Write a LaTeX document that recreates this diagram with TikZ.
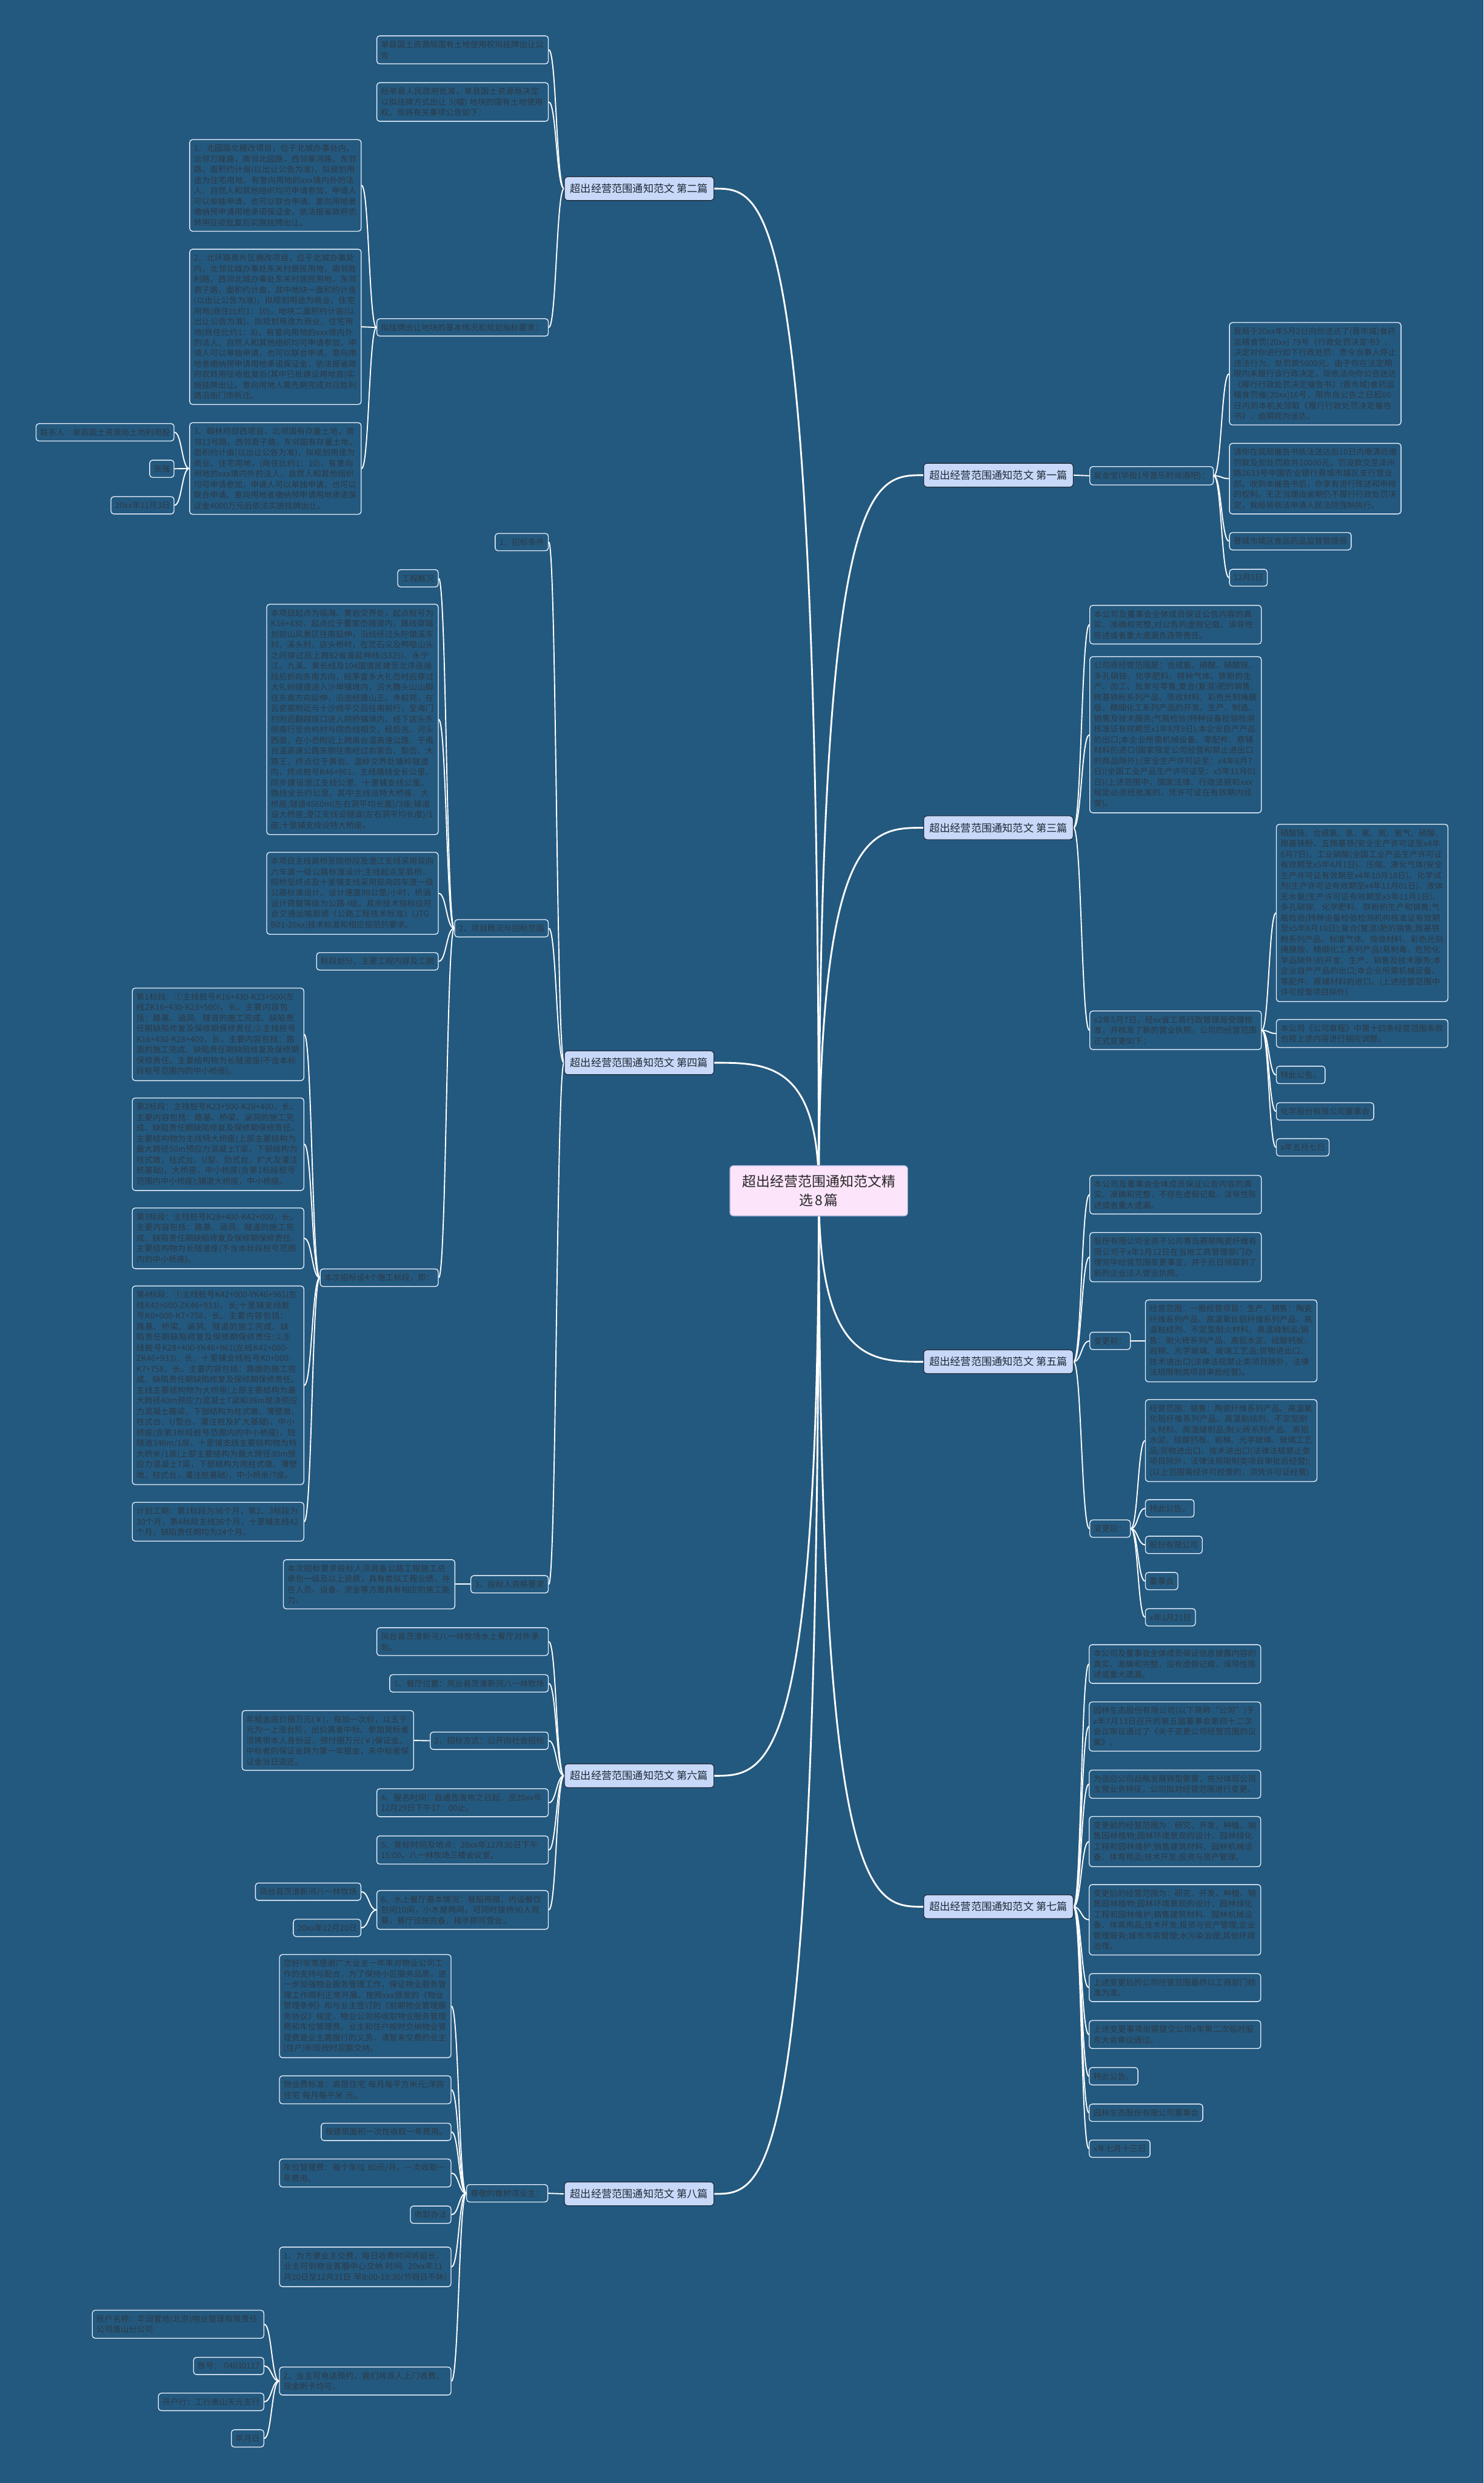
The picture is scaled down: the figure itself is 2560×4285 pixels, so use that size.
\documentclass[tikz,border=0pt]{standalone}
\usepackage{fontspec}
\setmainfont{Noto Sans CJK SC}
\usetikzlibrary{calc}
\XeTeXlinebreaklocale "zh"
\XeTeXlinebreakskip=0pt plus 0.6pt
\definecolor{bgc}{HTML}{24597F}
\definecolor{leafline}{HTML}{E6F1FC}
\definecolor{leaftext}{HTML}{2C3A47}
\definecolor{mainfill}{HTML}{C8D8F8}
\definecolor{mainline}{HTML}{1B2836}
\definecolor{maintext}{HTML}{1E2A36}
\definecolor{rootfill}{HTML}{FCE4FB}
\definecolor{rootline}{HTML}{8FA8D0}
\pgfdeclarelayer{back}
\pgfdeclarelayer{lines}
\pgfsetlayers{back,lines,main}
\newcommand\linkR[2]{\draw[conn] let \p1=(#1.east), \p2=(#2.west) in (\p1) .. controls ({0.5*\x1+0.5*\x2},\y1) and ({0.5*\x1+0.5*\x2},\y2) .. (\p2);}
\newcommand\linkL[2]{\draw[conn] let \p1=(#1.west), \p2=(#2.east) in (\p1) .. controls ({0.5*\x1+0.5*\x2},\y1) and ({0.5*\x1+0.5*\x2},\y2) .. (\p2);}
\newcommand\rootlink[2]{\draw[rconn] let \p1=(root.center), \p2=(#1.#2) in (\p1) .. controls (\x1,\y2) and ({0.5*\x1+0.5*\x2},\y2) .. (\p2);}
\begin{document}
\begin{tikzpicture}[x=0.5pt,y=-0.5pt,
  leaf/.style={draw=leafline, line width=0.7pt, rounded corners=2.5pt, fill=bgc, text=leaftext,
    font=\fontsize{7}{9.15}\selectfont, inner xsep=3.5pt, inner ysep=4.25pt},
  wide/.style={leaf, text width=141pt, align=left},
  mainb/.style={draw=mainline, line width=0.6pt, rounded corners=3pt, fill=mainfill, text=maintext,
    font=\fontsize{9}{10}\selectfont, minimum width=129pt, minimum height=20.5pt, inner sep=2pt},
  rootb/.style={draw=rootline, line width=0.6pt, rounded corners=3pt, fill=rootfill, text=black!85,
    font=\fontsize{12}{16}\selectfont, minimum width=153.5pt, minimum height=43.5pt, text width=133pt, align=center},
  conn/.style={draw=white, line width=1pt},
  rconn/.style={draw=white, line width=1.5pt}]
\begin{pgfonlayer}{back}
\fill[bgc] (0,0) rectangle (2560,4285);
\end{pgfonlayer}
\useasboundingbox (0,0) rectangle (2560,4285);

% root and main branches
\node[rootb] (root) at (1413,2055) {超出经营范围通知范文精\\选8篇};
\node[mainb] (m1) at (1723,820) {超出经营范围通知范文 第一篇};
\node[mainb] (m2) at (1103,325.5) {超出经营范围通知范文 第二篇};
\node[mainb] (m3) at (1723,1428.5) {超出经营范围通知范文 第三篇};
\node[mainb] (m4) at (1103,1834) {超出经营范围通知范文 第四篇};
\node[mainb] (m5) at (1723,2350) {超出经营范围通知范文 第五篇};
\node[mainb] (m6) at (1103,3064.5) {超出经营范围通知范文 第六篇};
\node[mainb] (m7) at (1723,3290.5) {超出经营范围通知范文 第七篇};
\node[mainb] (m8) at (1103,3786) {超出经营范围通知范文 第八篇};

% 第一篇
\node[leaf,anchor=west] (a0) at (1880,821) {吴金宝(华街1号音乐时尚酒吧)：};
\node[wide,anchor=west] (a1) at (2121,645) {我局于20xx年5月2日向你送达了(晋市城)食药监稽食罚[20xx] 79号《行政处罚决定书》，决定对你进行如下行政处罚：责令当事人停止违法行为，处罚款5000元。由于你在法定期限内未履行该行政决定，现依法向你公告送达《履行行政处罚决定催告书》(晋市城)食药监稽食罚催[20xx]16号，限你自公告之日起60日内到本机关领取《履行行政处罚决定催告书》，逾期视为送达。};
\node[wide,anchor=west] (a2) at (2121,826) {请你在我局催告书依法送达后10日内缴清应缴罚款及加处罚款共10000元，罚没款交至泽州路2633号中国农业银行晋城市城区支行营业部。收到本催告书后，你享有进行陈述和申辩的权利。无正当理由逾期仍不履行行政处罚决定，我局将依法申请人民法院强制执行。};
\node[leaf,anchor=west] (a3) at (2121,934) {晋城市城区食品药品监督管理局};
\node[leaf,anchor=west] (a4) at (2121,997) {12月5日};

% 第二篇
\node[wide,anchor=east] (b1) at (947,86) {单县国土资源局国有土地使用权拟挂牌出让公告};
\node[wide,anchor=east] (b2) at (947,176) {经单县人民政府批准，单县国土资源局决定以拟挂牌方式出让 3(幅) 地块的国有土地使用权。现将有关事项公告如下：};
\node[wide,anchor=east] (b3) at (947,565) {拟挂牌出让地块的基本情况和规划指标要求：};
\node[wide,anchor=east] (b31) at (624,320) {1、北园路北棚改项目，位于北城办事处内，北邻万隆路，南邻北园路，西邻莱河路，东邻路，面积约计亩(以出让公告为准)，拟规划用途为住宅用地，有意向用地的xxx境内外的法人、自然人和其他组织均可申请参加，申请人可以单独申请，也可以联合申请。意向用地者缴纳预申请用地承诺保证金，依法报省政府农转用征收批复后实施挂牌出让。};
\node[wide,anchor=east] (b32) at (624,564) {2、北环路南片区棚改项目，位于北城办事处内，北邻北城办事处东关村居民用地，南邻胜利路，西邻北城办事处东关村居民用地，东邻君子路，面积约计亩，其中地块一面积约计亩(以出让公告为准)，拟规划用途为商业、住宅用地(商住比约1：10)，地块二面积约计亩(以出让公告为准)，拟规划用途为商业、住宅用地(商住比约1：8)，有意向用地的xxx境内外的法人、自然人和其他组织均可申请参加，申请人可以单独申请，也可以联合申请。意向用地者缴纳预申请用地承诺保证金，依法报省政府农转用征收批复后(其中已批建设用地亩)实施挂牌出让。意向用地人需先期完成对应胜利路沿街门市拆迁。};
\node[wide,anchor=east] (b33) at (624,808.5) {3、翰林府邸西项目，北邻国有存量土地，南邻13号路，西邻君子路，东邻国有存量土地，面积约计亩(以出让公告为准)，拟规划用途为商业、住宅用地，(商住比约1：10)，有意向用地的xxx境内外的法人、自然人和其他组织均可申请参加，申请人可以单独申请，也可以联合申请。意向用地者缴纳预申请用地承诺保证金4000万元后依法实施挂牌出让。};
\node[leaf,anchor=east] (b331) at (301,746) {联系人：单县国土资源局土地利用股};
\node[leaf,anchor=east] (b332) at (301,809) {张强};
\node[leaf,anchor=east] (b333) at (301,872) {20xx年11月3日};

% 第三篇
\node[wide,anchor=west] (c1) at (1880,1078) {本公司及董事会全体成员保证公告内容的真实、准确和完整,对公告的虚假记载、误导性陈述或者重大遗漏负连带责任。};
\node[wide,anchor=west] (c2) at (1880,1268) {公司原经营范围是：合成氨、硝酸、硝酸铵、多孔硝铵、化学肥料、特种气体、铁粉的生产、加工、批发与零售;复合(复混)肥的销售;羰基铁粉系列产品、吸收材料、彩色光刻掩膜版、精细化工系列产品的开发、生产、制造、销售及技术服务;气瓶检验(特种设备检验检测核准证有效期至x1年8月9日);本企业自产产品的出口;本企业所需机械设备、零配件、原辅材料的进口(国家限定公司经营和禁止进出口的商品除外);(安全生产许可证至：x4年6月7日)(全国工业产品生产许可证至：x5年11月01日)(上述范围中，国家法律、行政法规和xxx规定必须经批准的，凭许可证在有效期内经营)。};
\node[wide,anchor=west] (c3) at (1880,1778) {x2年5月7日，经xx省工商行政管理局受理核准，并核发了新的营业执照，公司的经营范围正式变更如下：};
\node[wide,anchor=west] (c31) at (2202,1575.5) {硝酸铵、合成氨、氢、氧、氮、氩气、硝酸、羰基铁粉、五羰基铁(安全生产许可证至x4年6月7日)、工业硝酸(全国工业产品生产许可证有效期至x5年4月1日)、压缩、液化气体(安全生产许可证有效期至x4年10月18日)、化学试剂(生产许可证有效期至x4年11月01日)、液体无水氨(生产许可证有效期至x5年11月1日)、多孔硝铵、化学肥料、铁粉的生产和销售;气瓶检验(特种设备检验检测机构核准证有效期至x5年8月10日);复合(复混)肥的销售;羰基铁粉系列产品、标准气体、吸收材料、彩色光刻掩膜版、精细化工系列产品(易制毒、危险化学品除外)的开发、生产、销售及技术服务;本企业自产产品的出口;本企业所需机械设备、零配件、原辅材料的进口。(上述经营范围中许可经营项目除外)};
\node[wide,anchor=west] (c32) at (2202,1783.5) {本公司《公司章程》中第十四条经营范围条款也按上述内容进行相应调整。};
\node[leaf,anchor=west] (c33) at (2202,1855) {特此公告。};
\node[leaf,anchor=west] (c34) at (2202,1918) {化学股份有限公司董事会};
\node[leaf,anchor=west] (c35) at (2202,1980) {x年五月七日};

% 第四篇
\node[leaf,anchor=east] (d1) at (947,935.5) {1、招标条件};
\node[leaf,anchor=east] (d2) at (947,1602) {2、项目概况与招标范围};
\node[leaf,anchor=east] (d21) at (757,998) {工程概况};
\node[wide,anchor=east] (d22) at (757,1241.5) {本项目起点为临海、黄岩交界处，起点桩号为K16+430，起点位于董家岙隧道内，路线穿越划岩山风景区往南延伸，沿线经过头陀镇溪东村、溪头村、店头桥村，在灵石尖及鸭咀山头之间穿过后上跨82省道延伸线(S325)、永宁江、九溪、黄长线及104国道民建至北洋连接线后折向东南方向，经茅畲乡大礼岙村后穿过大礼岭隧道进入沙埠镇境内，沿大魏头山山脚往东南方向延伸，沿途经唐山王、寺前郑，在瓦瓷窑附近与十沙线平交后往南前行，至海门村附近翻越垭口进入院桥镇境内，经下店头东侧南行至合屿村与院岙线相交，经后兆、河头西面，在小岙附近上跨甬台温高速公路，于甬台温高速公路东侧往南经过俞家岙、梨岙、大路王，终点位于黄岩、温岭交界处塘岭隧道内，终点桩号K46+961，主线路线全长公里。同步建设澄江支线公里、十里铺支线公里。路线全长约公里，其中主线设特大桥座，大桥座;隧道4560m(左右洞平均长度)/3座;辅道设大桥座;澄江支线设隧道(左右洞平均长度)/1座;十里铺支线设特大桥座。};
\node[wide,anchor=east] (d23) at (757,1541.6) {本项目主线高桥至院桥段及澄江支线采用双向六车道一级公路标准设计;主线起点至高桥，院桥至终点及十里铺支线采用双向四车道一级公路标准设计。设计速度80公里/小时，桥涵设计荷载等级为公路-I级。其余技术指标应符合交通运输部颁《公路工程技术标准》(JTG B01-20xx)技术标准和相应规范的要求。};
\node[leaf,anchor=east] (d24) at (757,1659) {标段划分、主要工程内容及工期};
\node[leaf,anchor=east] (d25) at (757,2205) {本次招标设4个施工标段，即：};
\node[wide,anchor=east] (d251) at (525,1785) {第1标段：①主线桩号K16+430-K23+500(左线ZK16+430-K23+500)，长。主要内容包括：路基、涵洞、隧道的施工完成、缺陷责任期缺陷修复及保修期保修责任;②主线桩号K16+430-K28+400，长，主要内容包括：路面的施工完成、缺陷责任期缺陷修复及保修期保修责任。主要结构物为长隧道座(不含本标段桩号范围内的中小桥座)。};
\node[wide,anchor=east] (d252) at (525,1974.6) {第2标段：主线桩号K23+500-K28+400，长。主要内容包括：路基、桥梁、涵洞的施工完成、缺陷责任期缺陷修复及保修期保修责任。主要结构物为主线特大桥座(上部主要结构为最大跨径50m预应力混凝土T梁，下部结构为柱式墩，柱式台、U型、肋式台，扩大及灌注桩基础)，大桥座，中小桥座(含第1标段桩号范围内中小桥座);辅道大桥座，中小桥座。};
\node[wide,anchor=east] (d253) at (525,2137) {第3标段：主线桩号K28+400-K42+000，长。主要内容包括：路基、涵洞、隧道的施工完成、缺陷责任期缺陷修复及保修期保修责任。主要结构物为长隧道座(不含本标段桩号范围内的中小桥座)。};
\node[wide,anchor=east] (d254) at (525,2390.6) {第4标段：①主线桩号K42+000-YK46+961(左线K42+000-ZK46+933)，长;十里铺支线桩号K0+000-K7+758，长。主要内容包括：路基、桥梁、涵洞、隧道的施工完成、缺陷责任期缺陷修复及保修期保修责任;②主线桩号K28+400-YK46+961(左线K42+000-ZK46+933)，长，十里铺支线桩号K0+000-K7+758，长。主要内容包括：路面的施工完成、缺陷责任期缺陷修复及保修期保修责任。主线主要结构物为大桥座(上部主要结构为最大跨径40m预应力混凝土T梁和38m现浇预应力混凝土箱梁，下部结构为柱式墩、薄壁墩，柱式台、U型台，灌注桩及扩大基础)，中小桥座(含第3标段桩号范围内的中小桥座)，短隧道346m/1座，十里铺支线主要结构物为特大桥米/1座(上部主要结构为最大跨径30m预应力混凝土T梁，下部结构为用柱式墩、薄壁墩，柱式台，灌注桩基础)，中小桥米/7座。};
\node[wide,anchor=east] (d255) at (525,2626) {计划工期：第1标段为36个月，第2、3标段为30个月，第4标段主线36个月，十里铺支线42个月，缺陷责任期均为24个月。};
\node[leaf,anchor=east] (d3) at (947,2734) {3、投标人资格要求};
\node[wide,anchor=east] (d31) at (785.7,2734) {本次招标要求投标人须具备公路工程施工总承包一级及以上资质，具有类似工程业绩，并在人员、设备、资金等方面具有相应的施工能力。};

% 第五篇
\node[wide,anchor=west] (e1) at (1880,2061.7) {本公司及董事会全体成员保证公告内容的真实、准确和完整，不存在虚假记载、误导性陈述或者重大遗漏。};
\node[wide,anchor=west] (e2) at (1880,2169.5) {股份有限公司全资子公司青岛赛顿陶瓷纤维有限公司于x年1月12日在当地工商管理部门办理完毕经营范围变更事宜，并于近日领取到了新的企业法人营业执照。};
\node[leaf,anchor=west] (e3) at (1880,2314) {变更前：};
\node[wide,anchor=west] (e31) at (1976,2314) {经营范围：一般经营项目：生产、销售：陶瓷纤维系列产品、高温氧化铝纤维系列产品、高温粘结剂、不定型耐火材料、高温缝制品;销售：耐火砖系列产品、高铝水泥、硅酸钙板、岩棉、光学玻璃、玻璃工艺品;货物进出口、技术进出口(法律法规禁止类项目除外，法律法规限制类项目审批经营)。};
\node[leaf,anchor=west] (e4) at (1880,2638) {变更后：};
\node[wide,anchor=west] (e41) at (1976,2486) {经营范围：销售：陶瓷纤维系列产品、高温氧化铝纤维系列产品、高温粘结剂、不定型耐火材料、高温缝制品;耐火砖系列产品、高铝水泥、硅酸钙板、岩棉、光学玻璃、玻璃工艺品;货物进出口、技术进出口(法律法规禁止类项目除外，法律法规限制类项目审批后经营);(以上范围需经许可经营的，须凭许可证经营)};
\node[leaf,anchor=west] (e42) at (1976,2603) {特此公告。};
\node[leaf,anchor=west] (e43) at (1976,2666) {股份有限公司};
\node[leaf,anchor=west] (e44) at (1976,2728.5) {董事会};
\node[leaf,anchor=west] (e45) at (1976,2791) {x年1月21日};

% 第六篇
\node[wide,anchor=east] (f1) at (947,2833) {凤台县茨淮新河八一林牧场水上餐厅对外承包。};
\node[leaf,anchor=east] (f2) at (947,2905) {1、餐厅位置：凤台县茨淮新河八一林牧场};
\node[leaf,anchor=east] (f3) at (947,3004) {2、招标方式：公开向社会招标};
\node[wide,anchor=east] (f31) at (714.5,3003.5) {年租金底价捌万元(￥)，每加一次价，以五千元为一上涨台阶，出价高者中标。参加竞标者须携带本人身份证，预付捌万元(￥)保证金。中标者的保证金转为第一年租金，未中标者保证金当日退还。};
\node[wide,anchor=east] (f4) at (947,3111) {4、报名时间：自通告发布之日起，至20xx年12月29日下午17：00止。};
\node[wide,anchor=east] (f5) at (947,3192.6) {5、竞标时间及地点：20xx年12月30日下午15:00，八一林牧场三楼会议室。};
\node[wide,anchor=east] (f6) at (947,3296) {6、水上餐厅基本情况：餐船两艘，内设餐饮包间10间，小木屋两间，可同时接待90人就餐，餐厅设施完备，接手即可营业。};
\node[leaf,anchor=east] (f61) at (623.5,3264.5) {凤台县茨淮新河八一林牧场};
\node[leaf,anchor=east] (f62) at (623.5,3327) {20xx年12月20日};

% 第七篇
\node[wide,anchor=west] (g1) at (1879,2871.6) {本公司及董事会全体成员保证信息披露内容的真实、准确和完整，没有虚假记载、误导性陈述或重大遗漏。};
\node[wide,anchor=west] (g2) at (1879,2979.5) {园林生态股份有限公司(以下简称“公司”)于x年7月13日召开的第五届董事会第四十二次会议审议通过了《关于变更公司经营范围的议案》。};
\node[wide,anchor=west] (g3) at (1879,3079) {为适应公司战略发展转型需要，充分体现公司主营业务特征，公司拟对经营范围进行变更。};
\node[wide,anchor=west] (g4) at (1879,3178) {变更前的经营范围为：研究、开发、种植、销售园林植物;园林环境景观的设计、园林绿化工程和园林维护;销售建筑材料、园林机械设备、体育用品;技术开发;投资与资产管理。};
\node[wide,anchor=west] (g5) at (1879,3313) {变更后的经营范围为：研究、开发、种植、销售园林植物;园林环境景观的设计、园林绿化工程和园林维护;销售建筑材料、园林机械设备、体育用品;技术开发;投资与资产管理;企业管理服务;城市市容管理;水污染治理;其他环境治理。};
\node[wide,anchor=west] (g6) at (1879,3430) {上述变更后的公司经营范围最终以工商部门核准为准。};
\node[wide,anchor=west] (g7) at (1879,3511) {上述变更事项尚需提交公司x年第二次临时股东大会审议通过。};
\node[leaf,anchor=west] (g8) at (1879,3583) {特此公告。};
\node[leaf,anchor=west] (g9) at (1879,3646) {园林生态股份有限公司董事会};
\node[leaf,anchor=west] (g10) at (1879,3708) {x年七月十三日};

% 第八篇
\node[leaf,anchor=east] (h0) at (946,3785) {尊敬的橡树湾业主：};
\node[wide,anchor=east] (h1) at (779,3462) {您好!非常感谢广大业主一年来对物业公司工作的支持与配合，为了保持小区服务品质，进一步加强物业服务管理工作，保证物业服务管理工作顺利正常开展。按照xxx颁发的《物业管理条例》和与业主签订的《前期物业管理服务协议》规定，物业公司将收取物业服务管理费和车位管理费。业主和住户按时交纳物业管理费是业主需履行的义务，请暂未交费的业主(住户)积极按时足额交纳。};
\node[wide,anchor=east] (h2) at (779,3606.5) {物业费标准：高层住宅 每月每平方米元;洋房住宅 每月每平米 元。};
\node[leaf,anchor=east] (h3) at (779,3679) {按建筑面积一次性收取一年费用。};
\node[wide,anchor=east] (h4) at (779,3750) {车位管理费：每个车位 80元/月，一次收取一年费用。};
\node[leaf,anchor=east] (h5) at (779,3822) {收取办法};
\node[wide,anchor=east] (h6) at (779,3912) {1、为方便业主交费，每日收费时间将延长，业主可到物业客服中心交纳.时间: 20xx年11月20日至12月31日 早8:00-19:30(节假日不休)};
\node[wide,anchor=east] (h7) at (779,4109) {2、业主可电话预约，我们将派人上门收费，现金刷卡均可。};
\node[wide,anchor=east] (h71) at (456,4011) {账户名称：华润置地(北京)物业管理有限责任公司唐山分公司};
\node[leaf,anchor=east] (h72) at (456,4083) {账号： 04030117};
\node[leaf,anchor=east] (h73) at (456,4145) {开户行：工行唐山天元支行};
\node[leaf,anchor=east] (h74) at (456,4208) {年月日};

\begin{pgfonlayer}{lines}
\rootlink{m1}{west}
\rootlink{m2}{east}
\rootlink{m3}{west}
\rootlink{m4}{east}
\rootlink{m5}{west}
\rootlink{m6}{east}
\rootlink{m7}{west}
\rootlink{m8}{east}
% 1
\linkR{m1}{a0}
\foreach \c in {a1,a2,a3,a4} {\linkR{a0}{\c}}
% 2
\foreach \c in {b1,b2,b3} {\linkL{m2}{\c}}
\foreach \c in {b31,b32,b33} {\linkL{b3}{\c}}
\foreach \c in {b331,b332,b333} {\linkL{b33}{\c}}
% 3
\foreach \c in {c1,c2,c3} {\linkR{m3}{\c}}
\foreach \c in {c31,c32,c33,c34,c35} {\linkR{c3}{\c}}
% 4
\foreach \c in {d1,d2,d3} {\linkL{m4}{\c}}
\foreach \c in {d21,d22,d23,d24,d25} {\linkL{d2}{\c}}
\foreach \c in {d251,d252,d253,d254,d255} {\linkL{d25}{\c}}
\linkL{d3}{d31}
% 5
\foreach \c in {e1,e2,e3,e4} {\linkR{m5}{\c}}
\linkR{e3}{e31}
\foreach \c in {e41,e42,e43,e44,e45} {\linkR{e4}{\c}}
% 6
\foreach \c in {f1,f2,f3,f4,f5,f6} {\linkL{m6}{\c}}
\linkL{f3}{f31}
\foreach \c in {f61,f62} {\linkL{f6}{\c}}
% 7
\foreach \c in {g1,g2,g3,g4,g5,g6,g7,g8,g9,g10} {\linkR{m7}{\c}}
% 8
\linkL{m8}{h0}
\foreach \c in {h1,h2,h3,h4,h5,h6,h7} {\linkL{h0}{\c}}
\foreach \c in {h71,h72,h73,h74} {\linkL{h7}{\c}}
\end{pgfonlayer}
\end{tikzpicture}
\end{document}
